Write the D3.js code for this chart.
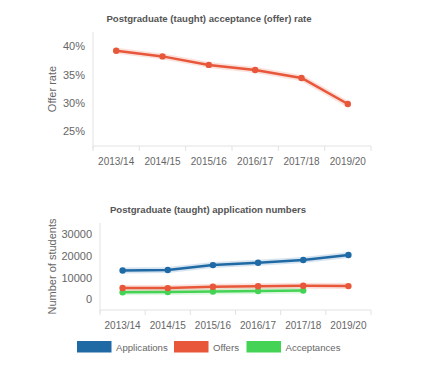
<!DOCTYPE html>
<html>
<head>
<meta charset="utf-8">
<script src="https://cdn.jsdelivr.net/npm/d3@7"></script>
<style>
body { margin:0; background:#fff; }
svg { display:block; font-family: "Liberation Sans", Arial, sans-serif; }
</style>
</head>
<body>
<svg id="c" width="440" height="379"></svg>
<script>
const categories = ["2013/14","2014/15","2015/16","2016/17","2017/18","2019/20"];
const offerRate = [39.2, 38.2, 36.7, 35.8, 34.4, 29.8];
const rateTicks = [25, 30, 35, 40];
const applications = [13200, 13450, 15700, 16800, 18000, 20300];
const offers = [5170, 5140, 5760, 6010, 6190, 6050];
const acceptances = [3200, 3300, 3600, 3800, 4000, null];
const countTicks = [0, 10000, 20000, 30000];
const seriesNames = ["Applications", "Offers", "Acceptances"];
const colors = ["#1f6aa5", "#e8573a", "#45d355"];

const svg = d3.select("#c");
const axisColor = "#e2e2e2";
const textColor = "#666";

function drawAxes(g, x, y, yTicks, fmt, left, right, top, bottom, ytitle, ytitleX) {
  const xa = g.append("g").attr("transform", `translate(0,${bottom})`)
    .call(d3.axisBottom(x).tickSize(0).tickPadding(12));
  xa.select(".domain").attr("stroke", axisColor).attr("d", `M${left},0H${right}`);
  xa.selectAll("text").attr("fill", textColor).attr("font-size", 10);
  const seps = [left].concat(categories.map(c => x(c) + x.bandwidth()));
  g.selectAll(null).data(seps).enter().append("line")
    .attr("x1", d => d).attr("x2", d => d)
    .attr("y1", bottom).attr("y2", bottom + 5)
    .attr("stroke", axisColor);
  const ya = g.append("g").attr("transform", `translate(${left},0)`)
    .call(d3.axisLeft(y).tickValues(yTicks).tickFormat(fmt).tickSize(0).tickPadding(8));
  ya.select(".domain").attr("stroke", axisColor).attr("d", `M0,${top}V${bottom + 3}`);
  ya.selectAll("text").attr("fill", textColor).attr("font-size", 11);
  g.append("text")
    .attr("transform", `translate(${ytitleX},${(top + bottom) / 2}) rotate(-90)`)
    .attr("text-anchor", "middle").attr("fill", textColor).attr("font-size", 11)
    .text(ytitle);
}

function drawLine(g, x, y, vals, color) {
  const pts = categories.map((c, i) => ({c, v: vals[i]})).filter(d => d.v != null);
  const line = d3.line().x(d => x(d.c) + x.bandwidth() / 2).y(d => y(d.v));
  g.append("path").datum(pts).attr("d", line).attr("fill", "none")
    .attr("stroke", color).attr("stroke-opacity", 0.18).attr("stroke-width", 6)
    .attr("stroke-linejoin", "round");
  g.append("path").datum(pts).attr("d", line).attr("fill", "none")
    .attr("stroke", color).attr("stroke-width", 2.5).attr("stroke-linejoin", "round");
  g.selectAll(null).data(pts).enter().append("circle")
    .attr("cx", d => x(d.c) + x.bandwidth() / 2).attr("cy", d => y(d.v))
    .attr("r", 3.2).attr("fill", color);
}

// ---- Top chart
{
  const g = svg.append("g");
  const left = 93, right = 371, top = 32, bottom = 146;
  const x = d3.scaleBand().domain(categories).range([left, right]);
  const y = d3.scaleLinear().domain([22.4, 42.5]).range([bottom, top]);
  g.append("text").attr("x", 209).attr("y", 22).attr("text-anchor", "middle")
    .attr("font-size", 9.6).attr("font-weight", "bold").attr("fill", "#555")
    .text("Postgraduate (taught) acceptance (offer) rate");
  drawAxes(g, x, y, rateTicks, d => d + "%", left, right, top, bottom, "Offer rate", 56);
  drawLine(g, x, y, offerRate, colors[1]);
}

// ---- Bottom chart
{
  const g = svg.append("g");
  const left = 100, right = 371, top = 223, bottom = 310;
  const x = d3.scaleBand().domain(categories).range([left, right]);
  const y = d3.scaleLinear().domain([-4900, 35000]).range([bottom, top]);
  g.append("text").attr("x", 208).attr("y", 213).attr("text-anchor", "middle")
    .attr("font-size", 9.6).attr("font-weight", "bold").attr("fill", "#555")
    .text("Postgraduate (taught) application numbers");
  drawAxes(g, x, y, countTicks, d => d, left, right, top, bottom, "Number of students", 56);
  drawLine(g, x, y, acceptances, colors[2]);
  drawLine(g, x, y, offers, colors[1]);
  drawLine(g, x, y, applications, colors[0]);

  const legX = [77, 174, 246.5];
  const lg = g.selectAll(null).data(seriesNames).enter().append("g")
    .attr("transform", (d, i) => `translate(${legX[i]},341)`);
  lg.append("rect").attr("width", 34.5).attr("height", 11.5).attr("fill", (d, i) => colors[i]);
  lg.append("text").attr("x", 39).attr("y", 9.5).attr("font-size", 9.6)
    .attr("fill", textColor).text(d => d);
}
</script>
</body>
</html>
